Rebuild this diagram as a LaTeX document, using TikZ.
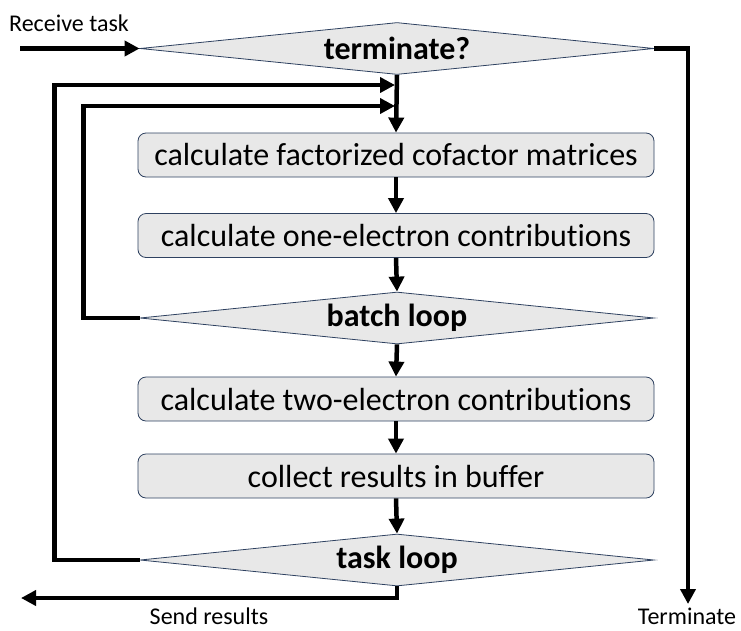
\documentclass[tikz,border=0pt]{standalone}
\usepackage{fontspec}
\setmainfont{Carlito}[Ligatures={NoCommon,NoContextual,NoRare}]
\usepackage{tikz}
\usetikzlibrary{shapes.geometric}
\usetikzlibrary{arrows.meta}

\definecolor{boxfill}{RGB}{232,232,232}
\definecolor{boxline}{RGB}{46,65,96}

\tikzset{
  stepbox/.style={draw=boxline, fill=boxfill, line width=0.8pt, rounded corners=8pt,
    minimum width=516pt, minimum height=44pt, inner sep=0pt,
    font=\fontsize{32}{35}\selectfont},
  decide/.style={draw=boxline, fill=boxfill, line width=0.8pt, diamond, aspect=10,
    minimum width=514pt, minimum height=52pt, inner sep=0pt,
    font=\bfseries\fontsize{32}{35}\selectfont},
  flow/.style={line width=4.5pt, -{Triangle[length=15pt,width=15pt]}},
  note/.style={font=\fontsize{24}{26}\selectfont, inner sep=0pt}
}

\begin{document}
\begin{tikzpicture}[x=1pt,y=-1pt]
    \useasboundingbox (0,0) rectangle (741,630);

    % 主流程
    \node[decide] (term) at (397,48.5) {terminate?};
    \node[stepbox] (b1) at (396,155) {calculate factorized cofactor matrices};
    \node[stepbox] (b2) at (396,235.5) {calculate one-electron contributions};
    \node[decide] (batch) at (397,318) {batch loop};
    \node[stepbox] (b3) at (396,399) {calculate two-electron contributions};
    \node[stepbox] (b4) at (396,476) {collect results in buffer};
    \node[decide] (task) at (397,560) {task loop};

    \coordinate (in) at (20,48.5);
    \coordinate (out) at (688,604);
    \coordinate (send) at (21,598);
    \coordinate (j1) at (397,85);
    \coordinate (j2) at (397,106);

    \node[note] (lrec) at (69,23) {Receive task};
    \node[note] (lterm) at (687,616) {Terminate};
    \node[note] (lsend) at (209,616) {Send results};

    \draw[flow] (in) -- (term.west);
    \draw[flow] (term.east) -| (out);
    \draw[flow] (term.south) -- (b1.north);
    \draw[flow] (b1.south) -- (b2.north);
    \draw[flow] (b2.south) -- (batch.north);
    \draw[flow] (batch.south) -- (b3.north);
    \draw[flow] (b3.south) -- (b4.north);
    \draw[flow] (b4.south) -- (task.north);

    % 循环
    \draw[flow] (batch.west) -- ++(-56,0) |- ([xshift=-2pt]j2);
    \draw[flow] (task.west) -- ++(-85,0) |- ([xshift=-2pt]j1);
    \draw[flow] (task.south) |- (send);

\end{tikzpicture}
\end{document}
